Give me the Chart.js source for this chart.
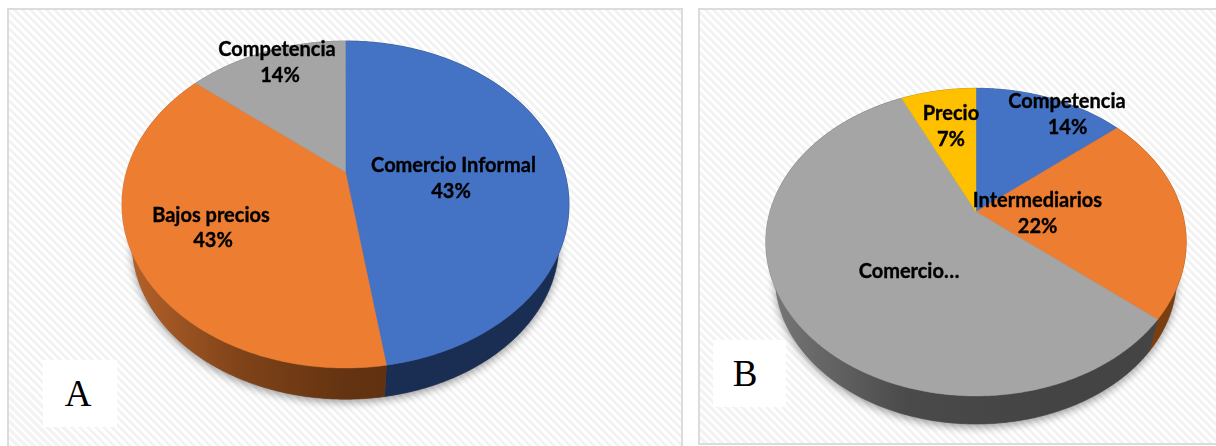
<!DOCTYPE html>
<html><head><meta charset="utf-8">
<style>
html,body{margin:0;padding:0;background:#fff;width:1216px;height:446px;overflow:hidden}
.panel{position:absolute;box-sizing:border-box;border:2px solid #dcdcdc;
background:repeating-linear-gradient(45deg,#fff 0,#fff 2.8px,#f3f3f3 2.8px,#f3f3f3 5.66px)}
canvas{position:absolute;top:0}
.tag{position:absolute;background:#fff;font-family:"Liberation Serif",serif;font-size:37px;line-height:37px;color:#000;text-align:center}
</style>
<script src="https://cdn.jsdelivr.net/npm/chart.js@4"></script>
</head><body>
<div class="panel" style="left:7px;top:8px;width:676px;height:445px"></div>
<div class="panel" style="left:698px;top:8px;width:525px;height:437px"></div>
<canvas id="a" style="left:0"></canvas>
<canvas id="b" style="left:690px"></canvas>
<div class="tag" style="left:43px;top:360px;width:74px;height:67px;padding:15px 4px 0 0;box-sizing:border-box">A</div>
<div class="tag" style="left:713px;top:340px;width:73px;height:67px;padding:15px 9px 0 0;box-sizing:border-box">B</div>
<script>
// Panel A: slice sizes as drawn in the picture, and the percentages printed on it
const categoriesA = ["Comercio Informal", "Bajos precios", "Competencia"];
const sharesA = [47.6, 38.4, 14];
const printedA = ["43%", "43%", "14%"];
// Panel B
const categoriesB = ["Competencia", "Intermediarios", "Comercio…", "Precio"];
const sharesB = [14, 22, 57, 7];
const printedB = ["14%", "22%", "", "7%"];

const coloursA = ["#4472C4", "#ED7D31", "#A5A5A5"];
const coloursB = ["#4472C4", "#ED7D31", "#A5A5A5", "#FFC000"];

// Tilted-disc projection: unit circle -> perspective view
function project(g, t, lower) {
  const x = Math.cos(t), y = -Math.sin(t), d = 1 + g.k * y;
  const s = lower ? g.ls : 1, cy = lower ? g.lcy : g.cy;
  return [g.cx + s * g.a * x / d, cy - s * g.b * y / d];
}
function trace(ctx, g, t0, t1, lower, first) {
  const n = Math.max(2, Math.ceil(Math.abs(t1 - t0) / 0.01));
  for (let i = 0; i <= n; i++) {
    const p = project(g, t0 + (t1 - t0) * i / n, lower);
    if (i === 0 && first) ctx.moveTo(p[0], p[1]); else ctx.lineTo(p[0], p[1]);
  }
}
const disc3d = {
  id: "disc3d",
  beforeDatasetsDraw(chart, args, o) {
    const ctx = chart.ctx, g = o.geo, arcs = chart.getDatasetMeta(0).data;
    // soft cast shadow
    ctx.save();
    ctx.shadowColor = "rgba(0,0,0,0.40)"; ctx.shadowBlur = 9; ctx.shadowOffsetY = 3;
    ctx.fillStyle = "#777";
    ctx.beginPath(); trace(ctx, g, 0, Math.PI * 2, true, true); ctx.closePath(); ctx.fill();
    ctx.restore();
    // side walls
    arcs.forEach((arc, i) => {
      const stops = o.side[i];
      const gr = ctx.createLinearGradient(g.cx - g.a, 0, g.cx + g.a, 0);
      stops.forEach((c, j) => gr.addColorStop(j / (stops.length - 1), c));
      ctx.fillStyle = gr; ctx.strokeStyle = gr; ctx.lineWidth = 0.6;
      ctx.beginPath();
      trace(ctx, g, arc.startAngle, arc.endAngle, false, true);
      trace(ctx, g, arc.endAngle, arc.startAngle, true, false);
      ctx.closePath(); ctx.fill(); ctx.stroke();
      // top face is painted by the library's own element loop
      arc.draw = function (c) {
        c.save();
        c.fillStyle = this.options.backgroundColor;
        c.beginPath();
        c.moveTo(g.cx, g.cy);
        trace(c, g, this.startAngle, this.endAngle, false, false);
        c.closePath(); c.fill();
        c.strokeStyle = this.options.backgroundColor; c.lineWidth = 0.4; c.stroke();
        c.restore();
      };
    });
  },
  afterDatasetsDraw(chart, args, o) {
    const ctx = chart.ctx;
    ctx.save();
    ctx.fillStyle = "#000"; ctx.strokeStyle = "#000"; ctx.lineWidth = 0.35;
    ctx.textAlign = "center"; ctx.textBaseline = "middle";
    ctx.font = "bold " + o.fontSize + "px Lato";
    const put = (s, x, y) => { ctx.fillText(s, x, y); ctx.strokeText(s, x, y); };
    chart.data.labels.forEach((name, i) => {
      const p = o.place[i];
      put(name, p[0], p[1]);
      const txt = o.printed[i];
      if (txt) put(txt, p[2], p[3]);
    });
    ctx.restore();
  }
};
function make(id, labels, values, colours, opts) {
  const el = document.getElementById(id);
  return new Chart(el, {
    type: "pie",
    data: { labels: labels, datasets: [{ data: values, backgroundColor: colours, borderWidth: 0 }] },
    options: {
      responsive: false, animation: false, events: [],
      plugins: { legend: { display: false }, tooltip: { enabled: false }, title: { display: false }, disc3d: opts }
    },
    plugins: [disc3d]
  });
}
const sizeA = document.getElementById("a"); sizeA.width = 690; sizeA.height = 446;
const sizeB = document.getElementById("b"); sizeB.width = 526; sizeB.height = 446;
make("a", categoriesA, sharesA, coloursA, {
  geo: { cx: 345.5, cy: 172, a: 219, b: 157, k: 0.199, ls: 0.955, lcy: 212 },
  side: [["#1a2d52", "#1a2d52"], ["#b5622a", "#814419", "#643311", "#5b2e10", "#5b2e10"], ["#6a6a6a", "#6a6a6a"]],
  printed: printedA, fontSize: 20,
  place: [[453.5, 166, 451, 192], [211, 216, 213, 241], [277, 50, 280, 76]]
});
make("b", categoriesB, sharesB, coloursB, {
  geo: { cx: 286, cy: 211.7, a: 206, b: 147.8, k: 0.198, ls: 0.955, lcy: 248 },
  side: [["#2a4474", "#2a4474"], ["#7a3e10", "#7a3e10"], ["#777777", "#4a4a4a", "#444444", "#444444"], ["#8a6a00", "#8a6a00"]],
  printed: printedB, fontSize: 20,
  place: [[377, 102, 377.5, 128], [347.4, 201, 347.6, 227], [219, 272, 0, 0], [261, 114, 261, 140]]
});
</script>
</body></html>
